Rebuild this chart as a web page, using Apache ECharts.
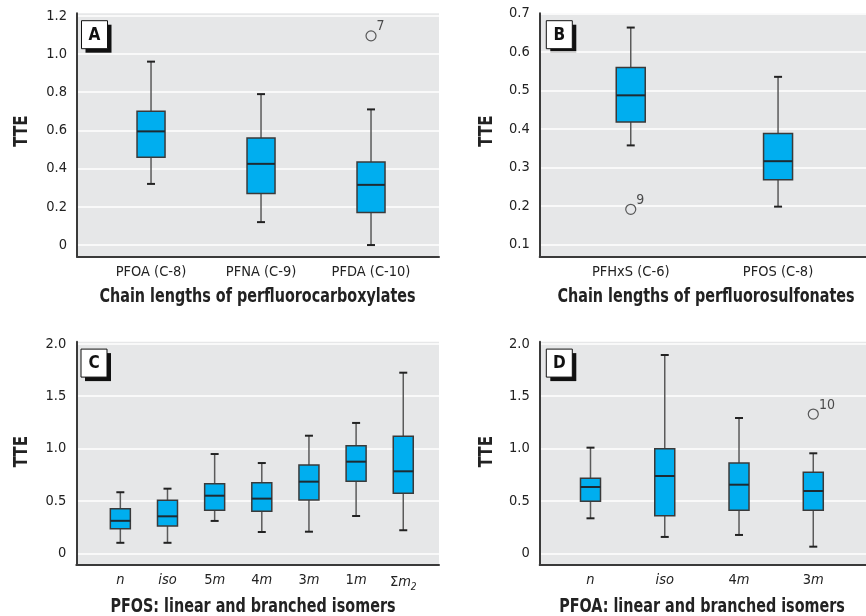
<!DOCTYPE html>
<html>
<head>
<meta charset="utf-8">
<script src="https://cdn.jsdelivr.net/npm/echarts@6/dist/echarts.min.js"></script>
<style>
html,body{margin:0;padding:0;background:#fff;}
#chart{width:866px;height:616px;}
</style>
</head>
<body>
<div id="chart"></div>
<script>
// ---------- data ----------
const catA = ['PFOA (C-8)', 'PFNA (C-9)', 'PFDA (C-10)'];
// [min, Q1, median, Q3, max]
const boxA = [[0.32, 0.46, 0.595, 0.70, 0.96], [0.12, 0.27, 0.425, 0.56, 0.79], [0.0, 0.17, 0.315, 0.435, 0.71]];
const outA = [[3, 1.095, '7']];
const xTitleA = 'Chain lengths of perfluorocarboxylates';

const catB = ['PFHxS (C-6)', 'PFOS (C-8)'];
const boxB = [[0.357, 0.418, 0.487, 0.559, 0.663], [0.198, 0.268, 0.316, 0.388, 0.535]];
const outB = [[1, 0.191, '9']];
const xTitleB = 'Chain lengths of perfluorosulfonates';

const catC = ['{i|n}', '{i|iso}', '5{i|m}', '4{i|m}', '3{i|m}', '1{i|m}', 'Σ{i|m}{sub|2}'];
const boxC = [[0.10, 0.235, 0.31, 0.426, 0.583], [0.10, 0.261, 0.353, 0.506, 0.617], [0.309, 0.411, 0.55, 0.665, 0.948],
  [0.203, 0.401, 0.522, 0.674, 0.862], [0.206, 0.509, 0.684, 0.843, 1.123], [0.356, 0.688, 0.875, 1.028, 1.245],
  [0.22, 0.573, 0.783, 1.117, 1.725]];
const outC = [];
const xTitleC = 'PFOS: linear and branched isomers';

const catD = ['{i|n}', '{i|iso}', '4{i|m}', '3{i|m}'];
const boxD = [[0.334, 0.497, 0.633, 0.716, 1.009], [0.156, 0.359, 0.738, 0.999, 1.894], [0.175, 0.411, 0.655, 0.862, 1.292],
  [0.063, 0.411, 0.595, 0.774, 0.955]];
const outD = [[4, 1.33, '10']];
const xTitleD = 'PFOA: linear and branched isomers';

const ticksA = [0, 0.2, 0.4, 0.6, 0.8, 1.0, 1.2];
const ticksB = [0.1, 0.2, 0.3, 0.4, 0.5, 0.6, 0.7];
const ticksCD = [0, 0.5, 1.0, 1.5, 2.0];
const yTitle = 'TTE';
const panelLetters = ['A', 'B', 'C', 'D'];

// ---------- styling / layout ----------
const FONT = '"Liberation Sans Narrow", "DejaVu Sans Condensed", "Roboto Condensed", sans-serif';
const BG = '#e6e7e8';
const BOXFILL = '#00aeef';
const SQUEEZE = 0.84;

const panels = [
  {cats: catA, box: boxA, out: outA, title: xTitleA, yt: ticksA, grid: {left: 77, top: 13.3, width: 362, height: 243.4},
   x: [0.327, 3.618], y: [-0.061, 1.213], bw: 28, lx: 4.5, tx: 257.5, ty: 296.7, yx: 22, yy: 131},
  {cats: catB, box: boxB, out: outB, title: xTitleB, yt: ticksB, grid: {left: 539.7, top: 13.3, width: 326.3, height: 243.4},
   x: [0.382, 2.597], y: [0.068, 0.70], bw: 29, lx: 6.6, tx: 706, ty: 296.7, yx: 486.3, yy: 131},
  {cats: catC, box: boxC, out: outC, title: xTitleC, yt: ticksCD, grid: {left: 76.3, top: 341.7, width: 362.7, height: 223.3},
   x: [0.066, 7.758], y: [-0.112, 2.021], bw: 20, lx: 4.7, tx: 253, ty: 606.7, yx: 22, yy: 451.7},
  {cats: catD, box: boxD, out: outD, title: xTitleD, yt: ticksCD, grid: {left: 539.7, top: 341.7, width: 326.3, height: 223.3},
   x: [0.316, 4.71], y: [-0.112, 2.021], bw: 20, lx: 6.6, tx: 702, ty: 606.7, yx: 486.3, yy: 451.7}
];

const grids = [], xAxes = [], yAxes = [], series = [], graphics = [];

panels.forEach((p, k) => {
  grids.push(Object.assign({backgroundColor: BG, show: true, borderWidth: 0, outerBoundsMode: 'none', containLabel: false}, p.grid));
  const idx = p.cats.map((c, i) => i + 1);
  xAxes.push({
    type: 'value', gridIndex: k, min: p.x[0], max: p.x[1],
    axisLine: {show: true, onZero: false, lineStyle: {color: '#3a3a3a', width: 2}},
    axisTick: {show: false, customValues: idx},
    splitLine: {show: false},
    axisLabel: {
      customValues: idx, margin: 8, color: '#222', fontSize: 14.5, fontFamily: FONT,
      formatter: v => p.cats[Math.round(v) - 1] || '',
      rich: {
        i: {fontStyle: 'italic', fontSize: 14.5, fontFamily: FONT, color: '#222'},
        sub: {fontStyle: 'italic', fontSize: 10, fontFamily: FONT, color: '#222', padding: [9, 0, 0, 0]}
      }
    }
  });
  yAxes.push({
    type: 'value', gridIndex: k, min: p.y[0], max: p.y[1],
    axisLine: {show: true, onZero: false, lineStyle: {color: '#3a3a3a', width: 2}},
    axisTick: {show: false, customValues: p.yt},
    splitLine: {show: true, lineStyle: {color: '#ffffff', width: 1.5}},
    axisLabel: {
      customValues: p.yt, margin: 10, color: '#222', fontSize: 14.5, fontFamily: FONT,
      formatter: v => (v === 0 ? '0' : v.toFixed(1))
    }
  });
  const bw = p.bw;
  series.push({
    type: 'custom', xAxisIndex: k, yAxisIndex: k, silent: true,
    data: p.box.map((b, i) => [i + 1].concat(b)),
    renderItem: (params, api) => {
      const x = api.value(0);
      const pMin = api.coord([x, api.value(1)]);
      const pQ1 = api.coord([x, api.value(2)]);
      const pMed = api.coord([x, api.value(3)]);
      const pQ3 = api.coord([x, api.value(4)]);
      const pMax = api.coord([x, api.value(5)]);
      const cx = pMin[0];
      const cap = 4;
      const wStyle = {stroke: '#5a5a5a', lineWidth: 1.5};
      const cStyle = {stroke: '#222', lineWidth: 2};
      return {
        type: 'group',
        children: [
          {type: 'line', shape: {x1: cx, y1: pMax[1], x2: cx, y2: pQ3[1]}, style: wStyle},
          {type: 'line', shape: {x1: cx, y1: pQ1[1], x2: cx, y2: pMin[1]}, style: wStyle},
          {type: 'line', shape: {x1: cx - cap, y1: pMax[1], x2: cx + cap, y2: pMax[1]}, style: cStyle},
          {type: 'line', shape: {x1: cx - cap, y1: pMin[1], x2: cx + cap, y2: pMin[1]}, style: cStyle},
          {type: 'rect', shape: {x: cx - bw / 2, y: pQ3[1], width: bw, height: pQ1[1] - pQ3[1]},
           style: {fill: BOXFILL, stroke: '#3a3a3a', lineWidth: 1.5}},
          {type: 'line', shape: {x1: cx - bw / 2, y1: pMed[1], x2: cx + bw / 2, y2: pMed[1]},
           style: {stroke: '#1d2b33', lineWidth: 2}}
        ]
      };
    }
  });
  if (p.out.length) {
    series.push({
      type: 'scatter', xAxisIndex: k, yAxisIndex: k, silent: true,
      symbol: 'circle', symbolSize: 10,
      itemStyle: {color: BG, borderColor: '#333', borderWidth: 1.2},
      data: p.out.map(o => ({value: [o[0], o[1]], name: o[2]})),
      label: {show: true, position: 'right', offset: [-5, -9], formatter: d => d.name,
        fontSize: 14, fontFamily: FONT, color: '#222'}
    });
  }
  // panel letter box
  graphics.push({
    type: 'group', x: p.grid.left + p.lx, y: p.grid.top + 7.4, children: [
      {type: 'rect', shape: {x: 4, y: 4, width: 26, height: 28}, style: {fill: '#111'}},
      {type: 'rect', shape: {x: 0, y: 0, width: 26, height: 28}, style: {fill: '#fff', stroke: '#111', lineWidth: 1}},
      {type: 'text', x: 13, y: 14.5, style: {text: panelLetters[k], fontSize: 17, fontWeight: 'bold', fontFamily: FONT,
        fill: '#111', align: 'center', verticalAlign: 'middle'}}
    ]
  });
  // axis titles
  graphics.push({
    type: 'text', x: p.tx, y: p.ty, scaleX: SQUEEZE, silent: true,
    style: {text: p.title, fontSize: 19, fontWeight: 'bold', fontFamily: FONT, fill: '#222',
      align: 'center', verticalAlign: 'middle'}
  });
  graphics.push({
    type: 'text', x: p.yx, y: p.yy, rotation: Math.PI / 2, scaleX: SQUEEZE, silent: true,
    style: {text: yTitle, fontSize: 20, fontWeight: 'bold', fontFamily: FONT, fill: '#222',
      align: 'center', verticalAlign: 'middle'}
  });
});

const chart = echarts.init(document.getElementById('chart'), null, {renderer: 'canvas'});
chart.setOption({
  animation: false,
  grid: grids, xAxis: xAxes, yAxis: yAxes, series: series, graphic: graphics
});
</script>
</body>
</html>
